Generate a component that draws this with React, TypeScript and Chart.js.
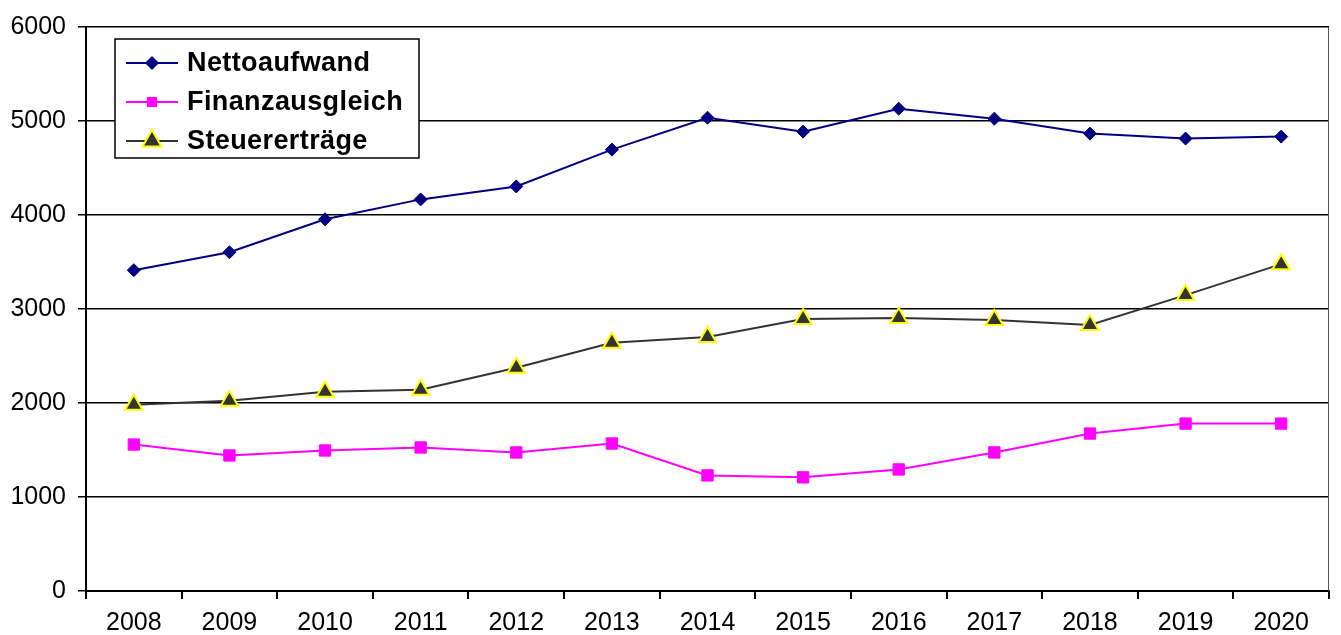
import React, { useEffect, useRef } from "react";
import { Chart, registerables } from "chart.js";
import { drawPoint } from "chart.js/helpers";

Chart.register(...registerables);

const years = ["2008", "2009", "2010", "2011", "2012", "2013", "2014", "2015", "2016", "2017", "2018", "2019", "2020"];
const nettoaufwand = [3413, 3604, 3954, 4166, 4304, 4696, 5035, 4887, 5131, 5025, 4866, 4813, 4834];
const finanzausgleich = [1558, 1442, 1495, 1527, 1474, 1569, 1230, 1209, 1293, 1474, 1675, 1781, 1781];
const steuerertraege = [1982, 2025, 2120, 2141, 2375, 2640, 2703, 2894, 2905, 2883, 2830, 3148, 3477];
const seriesNames = ["Nettoaufwand", "Finanzausgleich", "Steuererträge"];

const FONT = "'Liberation Sans', Arial, sans-serif";

const legendPlugin = {
  id: "boxLegend",
  afterDraw(chart: any) {
    const ctx = chart.ctx;
    const ca = chart.chartArea;
    const x0 = ca.left + 29;
    const y0 = ca.top + 12;
    const w = 304;
    const h = 119;
    ctx.save();
    ctx.fillStyle = "#ffffff";
    ctx.fillRect(x0, y0, w, h);
    ctx.strokeStyle = "#000000";
    ctx.lineWidth = 1.5;
    ctx.strokeRect(x0, y0, w, h);
    chart.data.datasets.forEach((ds: any, i: number) => {
      const cy = y0 + 24 + i * 39;
      ctx.strokeStyle = ds.borderColor;
      ctx.lineWidth = ds.borderWidth;
      ctx.beginPath();
      ctx.moveTo(x0 + 11, cy);
      ctx.lineTo(x0 + 63, cy);
      ctx.stroke();
      ctx.fillStyle = ds.pointBackgroundColor;
      ctx.strokeStyle = ds.pointBorderColor;
      ctx.lineWidth = ds.pointBorderWidth;
      const r = i === 1 ? 6.5 : i === 2 ? 11 : ds.pointRadius;
      drawPoint(ctx, { pointStyle: ds.pointStyle, radius: r, borderWidth: ds.pointBorderWidth, rotation: 0 }, x0 + 37, cy);
      ctx.fillStyle = "#000000";
      ctx.font = "bold 27px " + FONT;
      (ctx as any).letterSpacing = "0.4px";
      ctx.textBaseline = "middle";
      ctx.textAlign = "left";
      ctx.fillText(ds.label, x0 + 72, cy + 1);
      (ctx as any).letterSpacing = "0px";
    });
    ctx.restore();
  },
};

const borderPlugin = {
  id: "rightBorder",
  afterDatasetsDraw(chart: any) {
    const ctx = chart.ctx;
    const ca = chart.chartArea;
    ctx.save();
    ctx.strokeStyle = "#555555";
    ctx.lineWidth = 1;
    ctx.beginPath();
    ctx.moveTo(ca.right - 0.5, ca.top);
    ctx.lineTo(ca.right - 0.5, ca.bottom);
    ctx.stroke();
    ctx.restore();
  },
};

export default function App() {
  const ref = useRef<HTMLCanvasElement | null>(null);
  useEffect(() => {
    document.body.style.margin = "0";
    const chart = new Chart(ref.current as HTMLCanvasElement, {
      type: "line",
      data: {
        labels: years,
        datasets: [
          {
            label: seriesNames[0],
            data: nettoaufwand,
            borderColor: "#000080",
            borderWidth: 2,
            pointStyle: "rectRot",
            pointRadius: 6.5,
            pointBackgroundColor: "#000080",
            pointBorderColor: "#000080",
            pointBorderWidth: 1,
          },
          {
            label: seriesNames[1],
            data: finanzausgleich,
            borderColor: "#FF00FF",
            borderWidth: 2,
            pointStyle: "rect",
            pointRadius: 8,
            pointBackgroundColor: "#FF00FF",
            pointBorderColor: "#FF00FF",
            pointBorderWidth: 1,
          },
          {
            label: seriesNames[2],
            data: steuerertraege,
            borderColor: "#333333",
            borderWidth: 2,
            pointStyle: "triangle",
            pointRadius: 10,
            pointBackgroundColor: "#333333",
            pointBorderColor: "#FFFF00",
            pointBorderWidth: 2,
          },
        ] as any,
      },
      options: {
        animation: false,
        responsive: false,
        layout: { padding: { top: 25, right: 10, left: 0, bottom: 0 } },
        plugins: {
          legend: { display: false },
          tooltip: { enabled: false },
        },
        scales: {
          x: {
            offset: true,
            grid: { offset: true, drawOnChartArea: false, drawTicks: true, tickLength: 8, color: "#000000", lineWidth: 2 },
            border: { color: "#000000", width: 2 },
            ticks: { color: "#000000", font: { family: FONT, size: 25 }, padding: 9, maxRotation: 0, autoSkip: false },
            afterFit: (s: any) => { s.height = 44; },
          },
          y: {
            min: 0,
            max: 6000,
            grid: { color: "#000000", lineWidth: 1.5, drawTicks: true, tickLength: 8 },
            border: { color: "#000000", width: 2 },
            ticks: { stepSize: 1000, color: "#000000", font: { family: FONT, size: 25 }, padding: 12, callback: (v: any) => String(v) },
            afterFit: (s: any) => { s.width = 86; },
          },
        },
      },
      plugins: [borderPlugin, legendPlugin],
    });
    return () => chart.destroy();
  }, []);
  return (
    <div style={{ position: "absolute", left: 0, top: 0, width: 1341, height: 635 }}>
      <canvas ref={ref} width={1341} height={635} />
    </div>
  );
}
